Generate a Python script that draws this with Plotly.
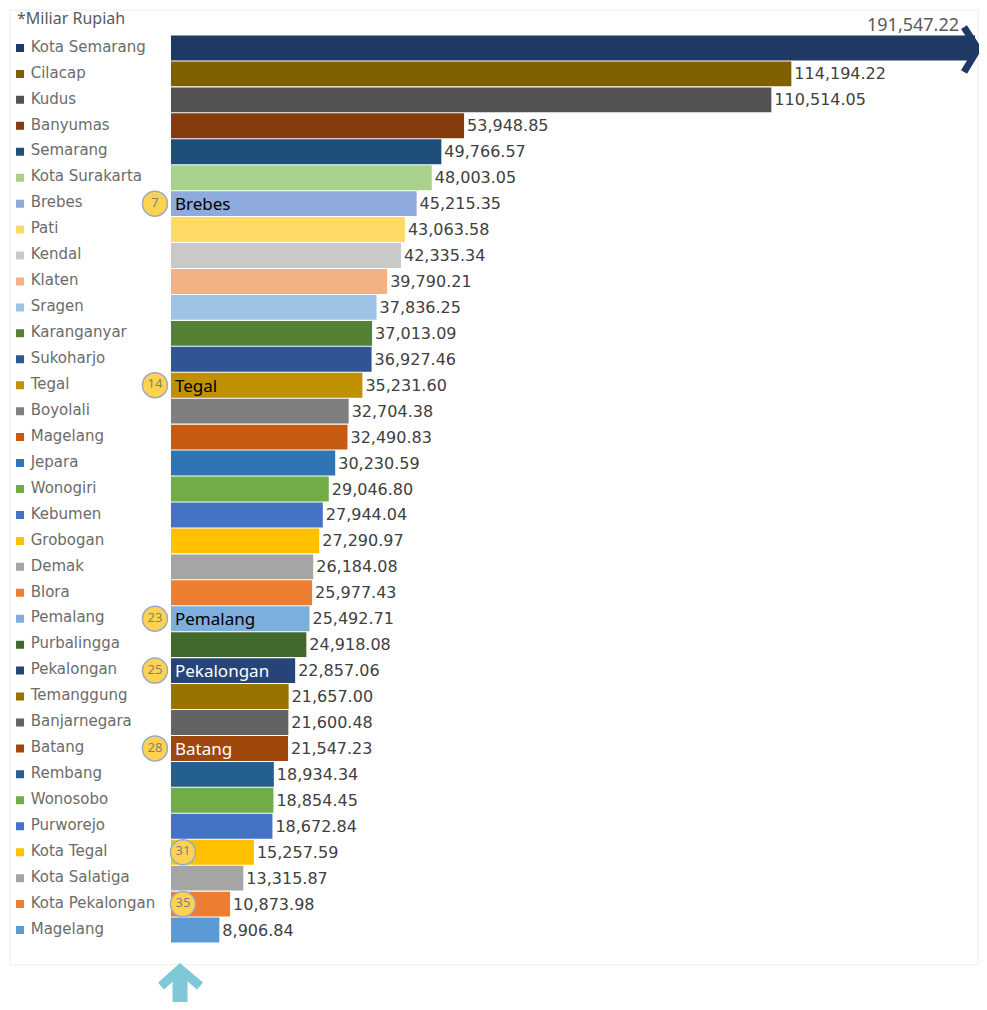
import plotly.graph_objects as go

# PDRB per kabupaten/kota, Jawa Tengah (miliar rupiah), urut dari terbesar
names = ['Kota Semarang', 'Cilacap', 'Kudus', 'Banyumas', 'Semarang', 'Kota Surakarta',
         'Brebes', 'Pati', 'Kendal', 'Klaten', 'Sragen', 'Karanganyar', 'Sukoharjo',
         'Tegal', 'Boyolali', 'Magelang', 'Jepara', 'Wonogiri', 'Kebumen', 'Grobogan',
         'Demak', 'Blora', 'Pemalang', 'Purbalingga', 'Pekalongan', 'Temanggung',
         'Banjarnegara', 'Batang', 'Rembang', 'Wonosobo', 'Purworejo', 'Kota Tegal',
         'Kota Salatiga', 'Kota Pekalongan', 'Magelang']
values = [191547.22, 114194.22, 110514.05, 53948.85, 49766.57, 48003.05,
          45215.35, 43063.58, 42335.34, 39790.21, 37836.25, 37013.09, 36927.46,
          35231.60, 32704.38, 32490.83, 30230.59, 29046.80, 27944.04, 27290.97,
          26184.08, 25977.43, 25492.71, 24918.08, 22857.06, 21657.00,
          21600.48, 21547.23, 18934.34, 18854.45, 18672.84, 15257.59,
          13315.87, 10873.98, 8906.84]
colors = ['#203864', '#7F6000', '#525252', '#843C0C', '#1F4E79', '#A9D18E',
          '#8FAADC', '#FFD966', '#C9C9C9', '#F4B183', '#9DC3E6', '#548235', '#2F5597',
          '#BF9000', '#7F7F7F', '#C55A11', '#2E75B6', '#70AD47', '#4472C4', '#FFC000',
          '#A5A5A5', '#ED7D31', '#7CAFDD', '#43682B', '#264478', '#997300',
          '#636363', '#9E480E', '#255E91', '#70AD47', '#4472C4', '#FFC000',
          '#A5A5A5', '#ED7D31', '#5B9BD5']
rows = list(range(1, len(values) + 1))

# daerah yang disorot (baris, nomor badge, label)
hl_rows = [7, 14, 23, 25, 28, 32, 34]
hl_nums = [7, 14, 23, 25, 28, 31, 35]
hl_labels = ['Brebes', 'Tegal', 'Pemalang', 'Pekalongan', 'Batang', '', '']
hl_label_colors = ['black', 'black', 'black', 'white', 'white', 'black', 'black']
# posisi badge: di kiri awal bar, atau sedikit masuk ke bar
hl_badge_x = [-2950, -2950, -2950, -2950, -2950, 2200, 2200]

bar_text = [''] + [f'{v:,.2f}' for v in values[1:]]

fig = go.Figure()
fig.add_trace(go.Bar(
    x=values, y=rows, orientation='h',
    marker=dict(color=colors, line=dict(width=0)),
    text=bar_text, textposition='outside', cliponaxis=True,
    textfont=dict(family='DejaVu Sans', size=16, color='#404040'),
    width=0.96, showlegend=False, hoverinfo='x'))

# kolom "legend" di kiri
fig.add_trace(go.Scatter(
    x=[0.08] * len(rows), y=rows, xaxis='x2', yaxis='y',
    mode='markers', marker=dict(symbol='square', size=8, color=colors),
    showlegend=False, hoverinfo='skip'))
fig.add_trace(go.Scatter(
    x=[0.165] * len(rows), y=rows, xaxis='x2', yaxis='y',
    mode='text', text=names, textposition='middle right',
    textfont=dict(family='DejaVu Sans', size=15, color='#6b6b6b'),
    cliponaxis=False, showlegend=False, hoverinfo='skip'))

# badge ranking
fig.add_trace(go.Scatter(
    x=hl_badge_x, y=hl_rows,
    mode='markers+text', text=[str(n) for n in hl_nums], textposition='middle center',
    marker=dict(symbol='circle', size=25, color='#FFD34F', line=dict(color='#9AAAC4', width=1.5)),
    textfont=dict(family='Noto Sans', size=13, color='#7F7F7F'),
    cliponaxis=False, showlegend=False, hoverinfo='skip'))

annotations = []
for r, lab, c in zip(hl_rows, hl_labels, hl_label_colors):
    if lab:
        annotations.append(dict(x=0, y=r, xref='x', yref='y', text=lab, showarrow=False,
                                xanchor='left', xshift=2,
                                font=dict(family='Noto Sans', size=17, color=c)))

annotations += [
    dict(x=0.005, y=1.019, xref='paper', yref='paper', text='*Miliar Rupiah',
         showarrow=False, xanchor='left', yanchor='middle',
         font=dict(family='Noto Sans', size=16, color='#595959')),
    dict(x=0.986, y=1.012, xref='paper', yref='paper', text=f'{values[0]:,.2f}',
         showarrow=False, xanchor='right', yanchor='middle',
         font=dict(family='Noto Sans', size=18, color='#595959')),
]

shapes = [
    dict(type='rect', xref='paper', yref='paper', x0=0, x1=1.0031,
         y0=-0.024, y1=1.0275, line=dict(color='#EDEDED', width=1), layer='below'),
    # chevron di ujung bar terpotong
    dict(type='path', xref='paper', yref='paper',
         path='M 0.9886,1.0088 L 1.0031,0.9846 L 0.9886,0.9593',
         line=dict(color='#203864', width=7)),
    # panah bawah
    dict(type='line', xref='paper', yref='paper', x0=0.1762, x1=0.1762,
         y0=-0.0738, y1=-0.0335, line=dict(color='#7FC8D8', width=15)),
    dict(type='path', xref='paper', yref='paper',
         path='M 0.1565,-0.0474 L 0.1762,-0.0286 L 0.1969,-0.0474',
         line=dict(color='#7FC8D8', width=9)),
]

# halaman html punya margin body 8px, jadi ukuran figure dikurangi 16px agar tidak ada scrollbar
fig.update_layout(
    width=971, height=994,
    margin=dict(l=2, r=4, t=27, b=59, autoexpand=False),
    paper_bgcolor='white', plot_bgcolor='white',
    bargap=0.04,
    xaxis=dict(domain=[0.1347, 1], range=[-5706, 148000], visible=False),
    xaxis2=dict(domain=[0, 0.13], range=[0, 1], visible=False, anchor='y'),
    yaxis=dict(range=[35.5, 0.5], visible=False),
    annotations=annotations,
    shapes=shapes,
)

fig.write_html('out.html')
